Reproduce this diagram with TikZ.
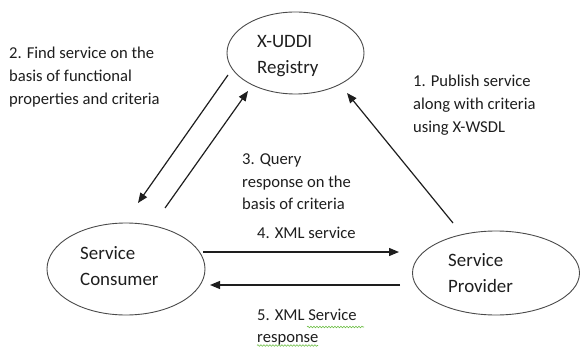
\documentclass[tikz,border=0pt]{standalone}
\usepackage{fontspec}
\setmainfont{Carlito}
\usetikzlibrary{shapes.geometric,arrows.meta,decorations.pathmorphing}
\definecolor{inkc}{HTML}{1E1E1E}
\definecolor{edgec}{HTML}{4A4A4A}
\definecolor{spellc}{HTML}{6DBE45}
\tikzset{
  entity/.style={draw=edgec, line width=0.9pt, ellipse, inner sep=0pt},
  etext/.style={anchor=base west, inner sep=0pt, text=inkc, font=\fontsize{18.9}{26}\selectfont, align=left},
  lbl/.style={anchor=base west, inner sep=0pt, text=inkc, font=\fontsize{16.6}{23}\selectfont, align=left},
  flow/.style={draw=inkc, line width=1.2pt, -{Triangle[length=10pt,width=8pt]}},
  spell/.style={draw=spellc, line width=0.6pt, decorate, decoration={snake, amplitude=0.8pt, segment length=3pt}}
}
\begin{document}
\begin{tikzpicture}[x=1pt,y=-1pt]
\useasboundingbox (0,0) rectangle (580,347);
% entities
\node[entity, minimum width=137pt, minimum height=82pt] (reg) at (295.5,53) {};
\node[entity, minimum width=158pt, minimum height=92pt] (con) at (126,269) {};
\node[entity, minimum width=167pt, minimum height=84pt] (prov) at (496,273) {};
% (base anchor of a multi-line node = baseline of its last line)
\node[etext] (regt) at (257,74) {X-UDDI\\Registry};
\node[etext] (cont) at (80,285) {Service\\Consumer};
\node[etext] (provt) at (448,292) {Service\\Provider};
% connector end points
\coordinate (p1s) at (453,223);
\coordinate (p1e) at (347,93);
\coordinate (p2s) at (228,75);
\coordinate (p2e) at (138,203);
\coordinate (p3s) at (165,208);
\coordinate (p3e) at (248,91);
\coordinate (p4s) at (203,252);
\coordinate (p4e) at (399,252);
\coordinate (p5s) at (400,285);
\coordinate (p5e) at (210,285);
\draw[flow] (p1s) -- (p1e);
\draw[flow] (p2s) -- (p2e);
\draw[flow] (p3s) -- (p3e);
\draw[flow] (p4s) -- (p4e);
\draw[flow] (p5s) -- (p5e);
% labels
\node[lbl] (l2) at (9,105) {2. Find service on the\\basis of functional\\properties and criteria};
\node[lbl] (l1) at (413,133) {1. Publish service\\along with criteria\\using X-WSDL};
\node[lbl, font=\fontsize{16.6}{22.5}\selectfont] (l3) at (242,210) {3. Query\\response on the\\basis of criteria};
\node[lbl] (l4) at (257,238) {4. XML service};
\node[lbl, font=\fontsize{16.6}{22}\selectfont] (l5) at (257,342) {5. XML Service\\response};
% spell-check underlines
\coordinate (s1a) at (307,327);
\coordinate (s1b) at (364,327);
\coordinate (s2a) at (257,345.5);
\coordinate (s2b) at (318,345.5);
\draw[spell] (s1a) -- (s1b);
\draw[spell] (s2a) -- (s2b);
\end{tikzpicture}
\end{document}
